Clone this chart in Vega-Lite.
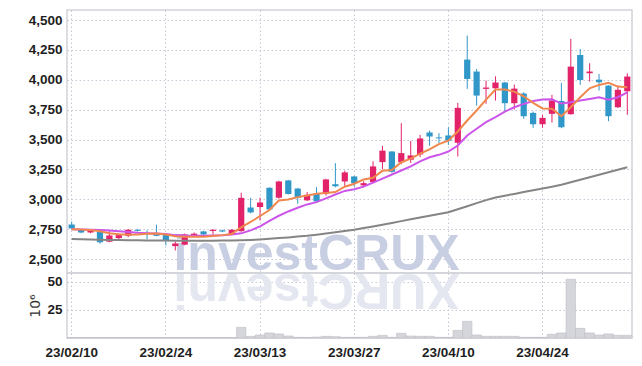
{
  "$schema": "https://vega.github.io/schema/vega-lite/v6.json",
  "background": "white",
  "padding": {"left": 27, "top": 9, "right": 8, "bottom": 5},
  "spacing": 0,
  "bounds": "flush",
  "config": {
    "view": {"stroke": "#d2d2da", "strokeWidth": 1.5},
    "axis": {
      "labelFont": "Liberation Sans, sans-serif",
      "labelFontSize": 13.5,
      "labelFontWeight": "bold",
      "labelColor": "#1e1e1e",
      "ticks": false,
      "domain": false,
      "gridColor": "#c6c6d6",
      "gridDash": [1.5, 2.5],
      "gridWidth": 1,
      "titleFont": "DejaVu Sans, sans-serif",
      "titleFontWeight": "normal",
      "titleFontSize": 14,
      "titleColor": "#333333"
    }
  },
  "datasets": {
    "d": [
      {"d": "23/02/10", "o": 2789, "h": 2814, "l": 2750, "c": 2756, "v": 0.3, "m5": 2750, "m20": 2750, "m60": 2668},
      {"d": "23/02/13", "o": 2745, "h": 2750, "l": 2716, "c": 2722, "v": 0.3, "m5": 2748, "m20": 2748, "m60": 2666},
      {"d": "23/02/14", "o": 2722, "h": 2750, "l": 2716, "c": 2745, "v": 0.3, "m5": 2742, "m20": 2745, "m60": 2664},
      {"d": "23/02/15", "o": 2728, "h": 2735, "l": 2628, "c": 2640, "v": 0.3, "m5": 2733, "m20": 2742, "m60": 2662},
      {"d": "23/02/16", "o": 2645, "h": 2739, "l": 2640, "c": 2697, "v": 0.3, "m5": 2715, "m20": 2738, "m60": 2660},
      {"d": "23/02/17", "o": 2675, "h": 2712, "l": 2665, "c": 2700, "v": 0.3, "m5": 2708, "m20": 2733, "m60": 2659},
      {"d": "23/02/20", "o": 2694, "h": 2750, "l": 2682, "c": 2745, "v": 0.3, "m5": 2703, "m20": 2726, "m60": 2658},
      {"d": "23/02/21", "o": 2744, "h": 2752, "l": 2730, "c": 2736, "v": 0.3, "m5": 2706, "m20": 2720, "m60": 2657},
      {"d": "23/02/22", "o": 2718, "h": 2740, "l": 2665, "c": 2712, "v": 0.3, "m5": 2712, "m20": 2716, "m60": 2656},
      {"d": "23/02/23", "o": 2716, "h": 2787, "l": 2690, "c": 2694, "v": 0.3, "m5": 2714, "m20": 2713, "m60": 2655},
      {"d": "23/02/24", "o": 2703, "h": 2711, "l": 2614, "c": 2656, "v": 0.3, "m5": 2705, "m20": 2710, "m60": 2654},
      {"d": "23/02/27", "o": 2608, "h": 2645, "l": 2572, "c": 2630, "v": 0.3, "m5": 2690, "m20": 2700, "m60": 2653},
      {"d": "23/02/28", "o": 2620, "h": 2712, "l": 2615, "c": 2706, "v": 0.3, "m5": 2686, "m20": 2696, "m60": 2652},
      {"d": "23/03/02", "o": 2700, "h": 2722, "l": 2690, "c": 2712, "v": 0.3, "m5": 2686, "m20": 2695, "m60": 2652},
      {"d": "23/03/03", "o": 2731, "h": 2736, "l": 2700, "c": 2706, "v": 0.3, "m5": 2686, "m20": 2695, "m60": 2652},
      {"d": "23/03/06", "o": 2735, "h": 2748, "l": 2706, "c": 2745, "v": 0.3, "m5": 2692, "m20": 2696, "m60": 2653},
      {"d": "23/03/07", "o": 2740, "h": 2745, "l": 2724, "c": 2730, "v": 0.3, "m5": 2700, "m20": 2698, "m60": 2654},
      {"d": "23/03/08", "o": 2707, "h": 2750, "l": 2700, "c": 2745, "v": 0.3, "m5": 2710, "m20": 2705, "m60": 2655},
      {"d": "23/03/09", "o": 2733, "h": 3055, "l": 2728, "c": 3012, "v": 9.5, "m5": 2765, "m20": 2715, "m60": 2657},
      {"d": "23/03/10", "o": 2931, "h": 3012, "l": 2882, "c": 2890, "v": 1.5, "m5": 2810, "m20": 2740, "m60": 2660},
      {"d": "23/03/13", "o": 2935, "h": 3013, "l": 2823, "c": 2973, "v": 2.7, "m5": 2860, "m20": 2773, "m60": 2664},
      {"d": "23/03/14", "o": 3096, "h": 3100, "l": 2910, "c": 2915, "v": 4.5, "m5": 2910, "m20": 2820, "m60": 2669},
      {"d": "23/03/15", "o": 3013, "h": 3155, "l": 3005, "c": 3149, "v": 3.6, "m5": 2990, "m20": 2862, "m60": 2675},
      {"d": "23/03/16", "o": 3158, "h": 3162, "l": 3040, "c": 3044, "v": 1.8, "m5": 2998, "m20": 2898, "m60": 2681},
      {"d": "23/03/17", "o": 3090, "h": 3095, "l": 2963, "c": 3013, "v": 0.6, "m5": 3018, "m20": 2929, "m60": 2688},
      {"d": "23/03/20", "o": 2991, "h": 3060, "l": 2985, "c": 3037, "v": 0.5, "m5": 3032, "m20": 2957, "m60": 2695},
      {"d": "23/03/21", "o": 3046, "h": 3102, "l": 2978, "c": 2982, "v": 0.8, "m5": 3046, "m20": 2976, "m60": 2704},
      {"d": "23/03/22", "o": 3046, "h": 3172, "l": 3030, "c": 3166, "v": 1.5, "m5": 3052, "m20": 3008, "m60": 2714},
      {"d": "23/03/23", "o": 3126, "h": 3302, "l": 3100, "c": 3109, "v": 1.2, "m5": 3060, "m20": 3040, "m60": 2724},
      {"d": "23/03/24", "o": 3149, "h": 3240, "l": 3105, "c": 3225, "v": 0.6, "m5": 3105, "m20": 3070, "m60": 2735},
      {"d": "23/03/27", "o": 3191, "h": 3196, "l": 3105, "c": 3135, "v": 0.6, "m5": 3130, "m20": 3084, "m60": 2745},
      {"d": "23/03/28", "o": 3116, "h": 3150, "l": 3105, "c": 3135, "v": 0.6, "m5": 3165, "m20": 3106, "m60": 2759},
      {"d": "23/03/29", "o": 3144, "h": 3319, "l": 3135, "c": 3275, "v": 1.5, "m5": 3180, "m20": 3140, "m60": 2773},
      {"d": "23/03/30", "o": 3311, "h": 3447, "l": 3250, "c": 3407, "v": 2.4, "m5": 3238, "m20": 3173, "m60": 2787},
      {"d": "23/03/31", "o": 3400, "h": 3402, "l": 3222, "c": 3230, "v": 0.6, "m5": 3245, "m20": 3207, "m60": 2802},
      {"d": "23/04/03", "o": 3310, "h": 3636, "l": 3293, "c": 3386, "v": 4.2, "m5": 3310, "m20": 3241, "m60": 2817},
      {"d": "23/04/04", "o": 3331, "h": 3488, "l": 3303, "c": 3367, "v": 1.8, "m5": 3340, "m20": 3275, "m60": 2832},
      {"d": "23/04/05", "o": 3375, "h": 3539, "l": 3352, "c": 3509, "v": 1.5, "m5": 3382, "m20": 3317, "m60": 2847},
      {"d": "23/04/06", "o": 3559, "h": 3575, "l": 3449, "c": 3525, "v": 1.5, "m5": 3418, "m20": 3352, "m60": 2862},
      {"d": "23/04/07", "o": 3518, "h": 3553, "l": 3472, "c": 3510, "v": 0.6, "m5": 3462, "m20": 3372, "m60": 2877},
      {"d": "23/04/10", "o": 3534, "h": 3603, "l": 3455, "c": 3490, "v": 0.6, "m5": 3490, "m20": 3400, "m60": 2892},
      {"d": "23/04/11", "o": 3473, "h": 3807, "l": 3358, "c": 3765, "v": 6.8, "m5": 3567, "m20": 3450, "m60": 2917},
      {"d": "23/04/12", "o": 4169, "h": 4370, "l": 3924, "c": 4007, "v": 14.9, "m5": 3659, "m20": 3534, "m60": 2942},
      {"d": "23/04/13", "o": 4069, "h": 4091, "l": 3784, "c": 3868, "v": 2.7, "m5": 3743, "m20": 3590, "m60": 2968},
      {"d": "23/04/14", "o": 3924, "h": 3993, "l": 3799, "c": 3935, "v": 1.5, "m5": 3834, "m20": 3645, "m60": 2993},
      {"d": "23/04/17", "o": 3929, "h": 4029, "l": 3826, "c": 3977, "v": 1.5, "m5": 3918, "m20": 3687, "m60": 3015},
      {"d": "23/04/18", "o": 3977, "h": 3982, "l": 3734, "c": 3804, "v": 1.5, "m5": 3918, "m20": 3734, "m60": 3030},
      {"d": "23/04/19", "o": 3804, "h": 3960, "l": 3751, "c": 3926, "v": 1.5, "m5": 3901, "m20": 3770, "m60": 3045},
      {"d": "23/04/20", "o": 3885, "h": 3896, "l": 3673, "c": 3695, "v": 0.6, "m5": 3862, "m20": 3798, "m60": 3060},
      {"d": "23/04/21", "o": 3723, "h": 3734, "l": 3598, "c": 3628, "v": 0.6, "m5": 3807, "m20": 3823, "m60": 3075},
      {"d": "23/04/24", "o": 3628, "h": 3707, "l": 3598, "c": 3681, "v": 0.6, "m5": 3760, "m20": 3834, "m60": 3090},
      {"d": "23/04/25", "o": 3715, "h": 3874, "l": 3642, "c": 3826, "v": 3.3, "m5": 3757, "m20": 3836, "m60": 3105},
      {"d": "23/04/26", "o": 3823, "h": 3974, "l": 3595, "c": 3603, "v": 4.5, "m5": 3695, "m20": 3801, "m60": 3121},
      {"d": "23/04/27", "o": 3712, "h": 4342, "l": 3707, "c": 4110, "v": 52.4, "m5": 3770, "m20": 3812, "m60": 3142},
      {"d": "23/04/28", "o": 4208, "h": 4258, "l": 3957, "c": 3999, "v": 8.6, "m5": 3854, "m20": 3826, "m60": 3163},
      {"d": "23/05/02", "o": 4055, "h": 4138, "l": 3985, "c": 4069, "v": 4.5, "m5": 3929, "m20": 3840, "m60": 3185},
      {"d": "23/05/03", "o": 4001, "h": 4049, "l": 3910, "c": 3979, "v": 2.7, "m5": 3957, "m20": 3854, "m60": 3205},
      {"d": "23/05/04", "o": 3951, "h": 3955, "l": 3653, "c": 3695, "v": 3.6, "m5": 3974, "m20": 3834, "m60": 3226},
      {"d": "23/05/08", "o": 3770, "h": 3951, "l": 3765, "c": 3916, "v": 2.4, "m5": 3943, "m20": 3854, "m60": 3247},
      {"d": "23/05/09", "o": 3904, "h": 4054, "l": 3707, "c": 4027, "v": 2.4, "m5": 3937, "m20": 3895, "m60": 3268}
    ]
  },
  "vconcat": [
    {
      "width": 565,
      "height": 263,
      "data": {"name": "d"},
      "encoding": {
        "x": {
          "field": "d",
          "type": "ordinal",
          "scale": {"type": "band", "paddingInner": 0, "paddingOuter": 0},
          "axis": {"title": null, "labels": false, "grid": true, "labelPadding": 0, "minExtent": 0, "maxExtent": 0, "offset": 0, "values": ["23/02/10", "23/02/24", "23/03/13", "23/03/27", "23/04/10", "23/04/24"]}
        }
      },
      "layer": [
        {
          "data": {"values": [{}]},
          "mark": {"type": "text", "text": "investCRUX", "font": "Liberation Sans, sans-serif", "fontWeight": "bold", "fontSize": 50, "color": "#c9cfe3", "align": "center", "baseline": "alphabetic"},
          "encoding": {
            "x": {"datum": "23/03/21", "type": "ordinal", "bandPosition": 0.5},
            "y": {"datum": 2408, "type": "quantitative", "scale": {"domain": [2383, 4584], "nice": false, "zero": false}, "axis": {"title": null, "grid": true, "values": [2500, 2750, 3000, 3250, 3500, 3750, 4000, 4250, 4500], "format": ",d", "labelPadding": 5}}
          }
        },
        {
          "mark": {"type": "rule", "strokeWidth": 1},
          "encoding": {
            "x": {"field": "d", "type": "ordinal", "bandPosition": 0.5},
            "y": {"field": "l", "type": "quantitative", "axis": {"title": null, "grid": true, "values": [2500, 2750, 3000, 3250, 3500, 3750, 4000, 4250, 4500], "format": ",d", "labelPadding": 5}},
            "y2": {"field": "h"},
            "color": {"condition": {"test": "datum.c >= datum.o", "value": "#e2236a"}, "value": "#3097c9"}
          }
        },
        {
          "mark": {"type": "bar", "width": {"band": 0.66}},
          "encoding": {
            "y": {"field": "o", "type": "quantitative", "axis": {"title": null, "grid": true, "values": [2500, 2750, 3000, 3250, 3500, 3750, 4000, 4250, 4500], "format": ",d", "labelPadding": 5}},
            "y2": {"field": "c"},
            "color": {"condition": {"test": "datum.c >= datum.o", "value": "#e2236a"}, "value": "#3097c9"}
          }
        },
        {
          "mark": {"type": "line", "color": "#858585", "strokeWidth": 2},
          "encoding": {
            "x": {"field": "d", "type": "ordinal", "bandPosition": 0.5},
            "y": {"field": "m60", "type": "quantitative", "axis": {"title": null, "grid": true, "values": [2500, 2750, 3000, 3250, 3500, 3750, 4000, 4250, 4500], "format": ",d", "labelPadding": 5}}
          }
        },
        {
          "mark": {"type": "line", "color": "#cc55ea", "strokeWidth": 2},
          "encoding": {
            "x": {"field": "d", "type": "ordinal", "bandPosition": 0.5},
            "y": {"field": "m20", "type": "quantitative", "axis": {"title": null, "grid": true, "values": [2500, 2750, 3000, 3250, 3500, 3750, 4000, 4250, 4500], "format": ",d", "labelPadding": 5}}
          }
        },
        {
          "mark": {"type": "line", "color": "#f0884e", "strokeWidth": 2},
          "encoding": {
            "x": {"field": "d", "type": "ordinal", "bandPosition": 0.5},
            "y": {"field": "m5", "type": "quantitative", "axis": {"title": null, "grid": true, "values": [2500, 2750, 3000, 3250, 3500, 3750, 4000, 4250, 4500], "format": ",d", "labelPadding": 5}}
          }
        }
      ]
    },
    {
      "width": 565,
      "height": 65,
      "data": {"name": "d"},
      "encoding": {
        "x": {
          "field": "d",
          "type": "ordinal",
          "scale": {"type": "band", "paddingInner": 0, "paddingOuter": 0},
          "axis": {"title": null, "grid": true, "labelAngle": 0, "labelPadding": 7, "values": ["23/02/10", "23/02/24", "23/03/13", "23/03/27", "23/04/10", "23/04/24"]}
        }
      },
      "layer": [
        {
          "data": {"values": [{}]},
          "mark": {"type": "text", "text": "XURCtsevni", "font": "Liberation Sans, sans-serif", "fontWeight": "bold", "fontSize": 50, "color": "#e4e7f0", "align": "center", "baseline": "alphabetic", "angle": 180},
          "encoding": {
            "x": {"datum": "23/03/21", "type": "ordinal", "bandPosition": 0.5},
            "y": {"datum": 57, "type": "quantitative", "scale": {"domain": [0, 58], "nice": false}, "axis": {"title": "10⁶", "grid": true, "values": [25, 50], "labelPadding": 5, "titlePadding": 4}}
          }
        },
        {
          "mark": {"type": "bar", "fill": "#d5d5dc", "stroke": "#bdbdc6", "strokeWidth": 0.6},
          "encoding": {
            "y": {"field": "v", "type": "quantitative", "axis": {"title": "10⁶", "grid": true, "values": [25, 50], "labelPadding": 5, "titlePadding": 4}}
          }
        }
      ]
    }
  ]
}
